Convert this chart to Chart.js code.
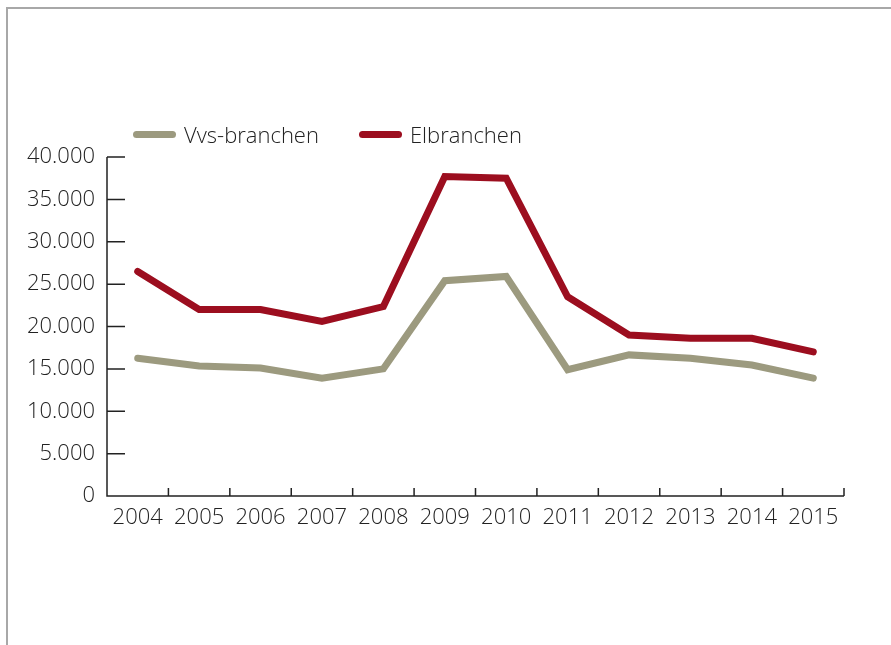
<!DOCTYPE html>
<html>
<head>
<meta charset="utf-8">
<script src="https://cdn.jsdelivr.net/npm/chart.js@4"></script>
<style>
  body { margin: 0; background: #fff; }
  #wrap { position: relative; width: 891px; height: 645px; overflow: hidden; }
  #frame { position: absolute; left: 6px; top: 7px; width: 900px; height: 700px;
           border-left: 2px solid #a8a8a8; border-top: 2px solid #a8a8a8; }
  #legende { position: absolute; left: 133px; top: 119px; display: flex;
             font-family: "Open Sans", sans-serif; font-weight: 300; font-size: 22px; color: #222; }
  .item { display: flex; align-items: center; margin-right: 40px; }
  .streg { width: 43px; height: 7px; border-radius: 4px; margin-right: 8px; }
  canvas { position: absolute; left: 0; top: 0; }
</style>
</head>
<body>
<div id="wrap">
  <div id="frame"></div>
  <canvas id="graf" width="891" height="645"></canvas>
  <div id="legende"></div>
</div>
<script>
// Data
const aar = ["2004", "2005", "2006", "2007", "2008", "2009", "2010", "2011", "2012", "2013", "2014", "2015"];
const vvsBranchen = [16250, 15350, 15100, 13900, 15000, 25400, 25900, 14900, 16650, 16250, 15450, 13900];
const elBranchen = [26500, 22000, 22000, 20600, 22350, 37700, 37500, 23500, 19000, 18600, 18600, 17000];
const yMaks = 40000;
const yTrin = 5000;

const datasaet = [
    { label: "Vvs-branchen", data: vvsBranchen, farve: "#9c9a7f" },
    { label: "Elbranchen", data: elBranchen, farve: "#9c0e1f" }
];

// akselinjer og små tickmarks
const akser = {
    id: "akser",
    afterDraw(chart) {
        const ctx = chart.ctx;
        const x = chart.scales.x;
        const y = chart.scales.y;
        ctx.save();
        ctx.strokeStyle = "#222";
        ctx.lineWidth = 1.5;
        ctx.beginPath();
        ctx.moveTo(x.left, y.top);
        ctx.lineTo(x.left, y.bottom);
        ctx.lineTo(x.right, y.bottom);
        y.ticks.forEach(t => {
            const py = y.getPixelForValue(t.value);
            ctx.moveTo(x.left, py);
            ctx.lineTo(x.left + 18, py);
        });
        const bredde = (x.right - x.left) / aar.length;
        for (let i = 1; i <= aar.length; i++) {
            const px = x.left + i * bredde;
            ctx.moveTo(px, y.bottom);
            ctx.lineTo(px, y.bottom - 8);
        }
        ctx.stroke();
        ctx.restore();
    }
};

const skrift = { family: "Open Sans", size: 22, weight: 300 };

const ctx = document.getElementById("graf").getContext("2d");
new Chart(ctx, {
    type: "line",
    data: {
        labels: aar,
        datasets: datasaet.map(d => ({
            label: d.label,
            data: d.data,
            borderColor: d.farve,
            backgroundColor: d.farve,
            borderWidth: 7,
            borderCapStyle: "round",
            borderJoinStyle: "miter",
            pointRadius: 0,
            tension: 0,
            fill: false
        }))
    },
    options: {
        responsive: false,
        animation: false,
        layout: {
            padding: { top: 157, right: 47, left: 0, bottom: 0 }
        },
        plugins: {
            legend: { display: false },
            tooltip: { enabled: false }
        },
        scales: {
            x: {
                offset: true,
                grid: { display: false, drawTicks: false },
                border: { display: false },
                ticks: {
                    padding: 9,
                    color: "#222",
                    font: skrift,
                    maxRotation: 0
                },
                afterFit(s) { s.height = 149; }
            },
            y: {
                min: 0,
                max: yMaks,
                grid: { display: false, drawTicks: false },
                border: { display: false },
                ticks: {
                    stepSize: yTrin,
                    padding: 12,
                    color: "#222",
                    font: skrift,
                    callback: v => v.toLocaleString("da-DK")
                },
                afterFit(s) { s.width = 107; }
            }
        }
    },
    plugins: [akser]
});

// HTML-legende
const legende = document.getElementById("legende");
datasaet.forEach(d => {
    const item = document.createElement("div");
    item.className = "item";
    const streg = document.createElement("span");
    streg.className = "streg";
    streg.style.background = d.farve;
    const tekst = document.createElement("span");
    tekst.textContent = d.label;
    item.appendChild(streg);
    item.appendChild(tekst);
    legende.appendChild(item);
});
</script>
</body>
</html>
